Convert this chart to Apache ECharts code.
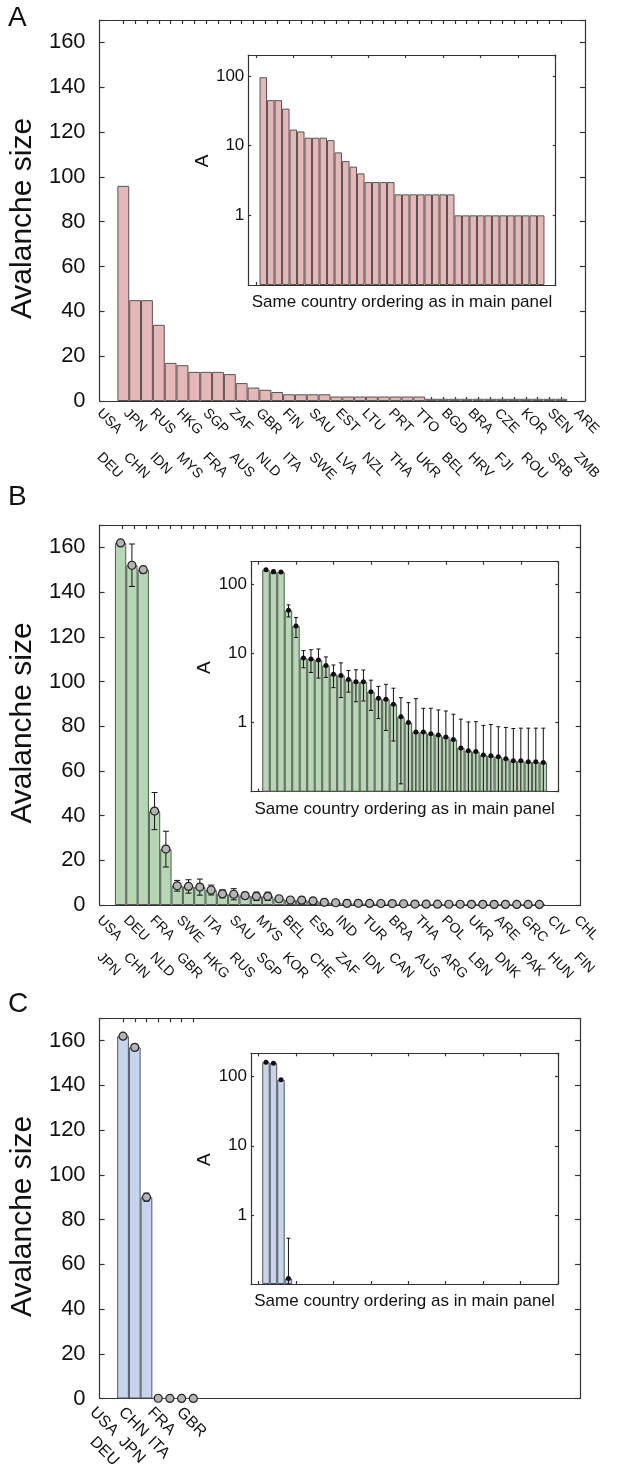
<!DOCTYPE html>
<html><head><meta charset="utf-8">
<script src="https://cdn.jsdelivr.net/npm/echarts@6/dist/echarts.min.js"></script>
<style>html,body{margin:0;padding:0;background:#fff}#c{width:636px;height:1471px}</style>
</head><body><div id="c"></div>
<script>
// ---------- data ----------
// Panel A
const aCountries = ['USA','DEU','JPN','CHN','RUS','IDN','HKG','MYS','SGP','FRA','ZAF','AUS','GBR','NLD','FIN','ITA','SAU','SWE','EST','LVA','LTU','NZL','PRT','THA','TTO','UKR','BGD','BEL','BRA','HRV','CZE','FJI','KOR','ROU','SEN','SRB','ARE','ZMB'];
const aSizes = [96,45,45,34,17,16,13,13,13,12,8,6,5,4,3,3,3,3,2,2,2,2,2,2,2,2,1,1,1,1,1,1,1,1,1,1,1,1];
// Panel B
const bCountries = ['USA','JPN','DEU','CHN','FRA','NLD','SWE','GBR','ITA','HKG','SAU','RUS','MYS','SGP','BEL','KOR','ESP','CHE','IND','ZAF','TUR','IDN','BRA','CAN','THA','AUS','POL','ARG','UKR','LBN','ARE','DNK','GRC','PAK','CIV','HUN','CHL','FIN'];
const bSizes = [162,152,150,42,25,8.6,8.3,8.0,6.7,5.0,4.8,4.2,3.9,3.9,2.8,2.24,2.17,1.84,1.21,1.0,0.73,0.73,0.69,0.66,0.62,0.57,0.43,0.39,0.38,0.34,0.33,0.32,0.30,0.28,0.28,0.27,0.27,0.265];
const bErrors = [0.8,9.5,1.5,8.3,8,2.4,3.0,3.6,2.2,1.8,2.5,1.45,1.9,1.85,1.3,1.1,1.4,1.3,1.08,0.94,1.49,0.88,0.92,0.86,0.85,0.75,0.69,0.63,0.65,0.57,0.61,0.55,0.55,0.54,0.55,0.56,0.56,0.565];
// Panel C
const cCountries = ['USA','DEU','CHN','JPN','FRA','ITA','GBR'];
const cSizes = [162,157,90,0.12,0.05,0.05,0.05];
const cErrors = [0.6,1,1.8,0.34,0.02,0.02,0.02];
// ticks
const mainYTicks = [0,20,40,60,80,100,120,140,160];
const insetYLabels = [1,10,100];
const insetXTicks = [0,5,10,15,20,25,30,35,40];

// ---------- styling ----------
const FONT = '"Liberation Sans", Arial, Helvetica, sans-serif';
const LINE = {color:'#333', width:1.2};
const INK = '#111';
const idx = n => Array.from({length:n}, (_, i) => i + 1);

const option = {
  animation:false, backgroundColor:'#fff',
  textStyle:{fontFamily:FONT, color:INK},
  title:[], grid:[], xAxis:[], yAxis:[], series:[]
};

function addGrid(b){
  option.grid.push({left:b.left, top:b.top, width:b.right-b.left, height:b.bottom-b.top});
  return option.grid.length - 1;
}

function errRender(cap, floor){
  return function(params, api){
    const x = api.value(0), v = api.value(1), e = api.value(2);
    let lo = v - e; const hi = v + e;
    let clamped = false;
    if (floor != null && lo < floor) { lo = floor; clamped = true; }
    const pHi = api.coord([x, hi]), pLo = api.coord([x, lo]);
    const st = {stroke:'#111', lineWidth:1};
    const ch = [
      {type:'line', shape:{x1:pLo[0], y1:pLo[1], x2:pHi[0], y2:pHi[1]}, style:st},
      {type:'line', shape:{x1:pHi[0]-cap, y1:pHi[1], x2:pHi[0]+cap, y2:pHi[1]}, style:st}
    ];
    if (!clamped) ch.push({type:'line', shape:{x1:pLo[0]-cap, y1:pLo[1], x2:pLo[0]+cap, y2:pLo[1]}, style:st});
    return {type:'group', children:ch};
  };
}

function mainPanel(p){
  const g = addGrid(p.box);
  const n = p.values.length;
  const xb = option.xAxis.length;
  option.xAxis.push({gridIndex:g, type:'value', position:'bottom', min:p.xMin, max:p.xMax,
    axisLine:{show:true, onZero:false, lineStyle:LINE},
    axisTick:{show:p.bottomTicks, inside:true, length:4, lineStyle:LINE, customValues:idx(n)},
    axisLabel:{show:false}, splitLine:{show:false}});
  option.xAxis.push({gridIndex:g, type:'value', position:'top', min:p.topMin, max:p.topMax,
    axisLine:{show:true, onZero:false, lineStyle:LINE},
    axisTick:{show:true, inside:true, length:4, lineStyle:LINE, customValues:idx(n)},
    axisLabel:{show:false}, splitLine:{show:false}});
  const yl = option.yAxis.length;
  option.yAxis.push({gridIndex:g, type:'value', position:'left', min:0, max:170, interval:20,
    axisLine:{show:true, onZero:false, lineStyle:LINE},
    axisTick:{inside:true, length:5, lineStyle:LINE},
    axisLabel:{fontSize:22, margin:14, color:INK, formatter:v => mainYTicks.includes(v) ? String(v) : ''},
    splitLine:{show:false},
    name:'Avalanche size', nameLocation:'middle', nameRotate:90, nameGap:55,
    nameTextStyle:{fontSize:30, color:INK, padding:[0,16,0,0]}});
  option.yAxis.push({gridIndex:g, type:'value', position:'right', min:0, max:170, interval:20,
    axisLine:{show:true, onZero:false, lineStyle:LINE},
    axisTick:{inside:true, length:5, lineStyle:LINE},
    axisLabel:{show:false}, splitLine:{show:false}});
  option.series.push({type:'bar', xAxisIndex:xb, yAxisIndex:yl, barWidth:'100%', silent:true,
    data:p.values.map((v,i)=>[i+1, v]),
    itemStyle:{color:p.color, borderColor:'#555', borderWidth:1}});
  if (p.errors){
    option.series.push({type:'custom', xAxisIndex:xb, yAxisIndex:yl, silent:true, z:4,
      data:p.values.map((v,i)=>[i+1, v, p.errors[i]]), renderItem:errRender(3, null)});
    option.series.push({type:'scatter', xAxisIndex:xb, yAxisIndex:yl, silent:true, z:5,
      symbol:'circle', symbolSize:8,
      data:p.values.map((v,i)=>[i+1, v]),
      itemStyle:{color:'#b4b4b4', borderColor:'#222', borderWidth:1.2, opacity:1}});
  }
}

function insetPanel(p){
  const g = addGrid(p.box);
  const xb = option.xAxis.length;
  const xBase = {gridIndex:g, type:'value', min:-1, max:40,
    axisLine:{show:true, onZero:false, lineStyle:LINE},
    axisTick:{show:true, inside:true, length:3, lineStyle:LINE, customValues:insetXTicks},
    axisLabel:{show:false}, splitLine:{show:false}};
  option.xAxis.push(Object.assign({}, xBase, {position:'bottom',
    name:'Same country ordering as in main panel', nameLocation:'middle', nameGap:9,
    nameTextStyle:{fontSize:17, color:INK, verticalAlign:'top'}}));
  option.xAxis.push(Object.assign({}, xBase, {position:'top'}));
  const yl = option.yAxis.length;
  const yBase = {gridIndex:g, type:'log', logBase:10, min:0.1, max:p.yMax, startValue:0.1,
    axisLine:{show:true, onZero:false, lineStyle:LINE},
    axisTick:{inside:true, length:3, lineStyle:LINE},
    splitLine:{show:false}};
  option.yAxis.push(Object.assign({}, yBase, {position:'left',
    axisLabel:{fontSize:17, margin:4, color:INK, showMaxLabel:false, showMinLabel:false,
      formatter:v => { const r = Math.round(Math.log10(v)); return (Math.abs(Math.log10(v) - r) < 1e-6 && insetYLabels.includes(Math.pow(10, r))) ? String(Math.pow(10, r)) : ''; }},
    name:'A', nameLocation:'middle', nameRotate:90, nameGap:33,
    nameTextStyle:{fontSize:19, color:INK, padding:[0,0,0,18]}}));
  option.yAxis.push(Object.assign({}, yBase, {position:'right', axisLabel:{show:false}}));
  const shown = p.values.map((v,i)=>[i+1, v]).filter(d => d[1] >= 0.1);
  option.series.push({type:'bar', xAxisIndex:xb, yAxisIndex:yl, barWidth:'100%', silent:true,
    data:shown, itemStyle:{color:p.color, borderColor:'#555', borderWidth:1}});
  if (p.errors){
    option.series.push({type:'custom', xAxisIndex:xb, yAxisIndex:yl, silent:true, z:4, clip:true,
      data:p.values.map((v,i)=>[i+1, v, p.errors[i]]).filter(d => d[1] >= 0.1),
      renderItem:errRender(2, 0.1)});
    option.series.push({type:'scatter', xAxisIndex:xb, yAxisIndex:yl, silent:true, z:5,
      symbol:'circle', symbolSize:5, data:shown, itemStyle:{color:'#111', opacity:1}});
  }
}

function labelRow(names, x0, s, axisY, margin, fontSize){
  const g = addGrid({left:x0 - s/2, right:x0 - s/2 + names.length*s, top:axisY - 10, bottom:axisY});
  option.xAxis.push({gridIndex:g, type:'category', data:names, boundaryGap:true, position:'bottom',
    axisLine:{show:false}, axisTick:{show:false}, splitLine:{show:false},
    axisLabel:{interval:0, rotate:-45, margin:margin, fontSize:fontSize, color:INK}});
  option.yAxis.push({gridIndex:g, type:'value', show:false});
}
const even = arr => arr.filter((_, i) => i % 2 === 0);
const odd = arr => arr.filter((_, i) => i % 2 === 1);

// ---------- panels ----------
option.title.push({text:'A', left:8, top:4, padding:0, textStyle:{fontSize:28, fontWeight:'normal', color:INK, fontFamily:FONT}});
option.title.push({text:'B', left:8, top:483, padding:0, textStyle:{fontSize:28, fontWeight:'normal', color:INK, fontFamily:FONT}});
option.title.push({text:'C', left:8, top:990, padding:0, textStyle:{fontSize:28, fontWeight:'normal', color:INK, fontFamily:FONT}});

mainPanel({box:{left:96, right:585, top:20, bottom:401}, xMin:-1, xMax:40, topMin:-1, topMax:40,
  bottomTicks:true, values:aSizes, color:'#e6b7b7'});
insetPanel({box:{left:248.3, right:555.7, top:55, bottom:285}, yMax:200, values:aSizes, color:'#e6b7b7'});
labelRow(even(aCountries), 99.3, 26.5, 401, 10, 14);
labelRow(odd(aCountries), 99.3, 26.5, 445, 10, 14);

mainPanel({box:{left:92.7, right:580.7, top:525, bottom:905}, xMin:-0.855, xMax:41.65, topMin:-0.95, topMax:39.8,
  bottomTicks:false, values:bSizes, errors:bErrors, color:'#b6d7b3'});
insetPanel({box:{left:251, right:558.3, top:561.7, bottom:791.7}, yMax:212, values:bSizes, errors:bErrors, color:'#b6d7b3'});
labelRow(even(bCountries), 99.3, 26.5, 905, 13, 14);
labelRow(odd(bCountries), 99.3, 26.5, 942, 13, 14);

mainPanel({box:{left:91.7, right:580, top:1018.3, bottom:1398.5}, xMin:-1, xMax:40, topMin:-1, topMax:40,
  bottomTicks:false, values:cSizes, errors:cErrors, color:'#c6d4ee'});
insetPanel({box:{left:251, right:558, top:1053.3, bottom:1284}, yMax:218, values:cSizes, errors:cErrors, color:'#c6d4ee'});
labelRow(even(cCountries), 92.3, 28.9, 1398.5, 11.5, 16);
labelRow(odd(cCountries), 92.3, 28.9, 1431.8, 11.5, 16);

const chart = echarts.init(document.getElementById('c'), null, {renderer:'canvas', width:636, height:1471});
chart.setOption(option);
</script>
</body></html>
